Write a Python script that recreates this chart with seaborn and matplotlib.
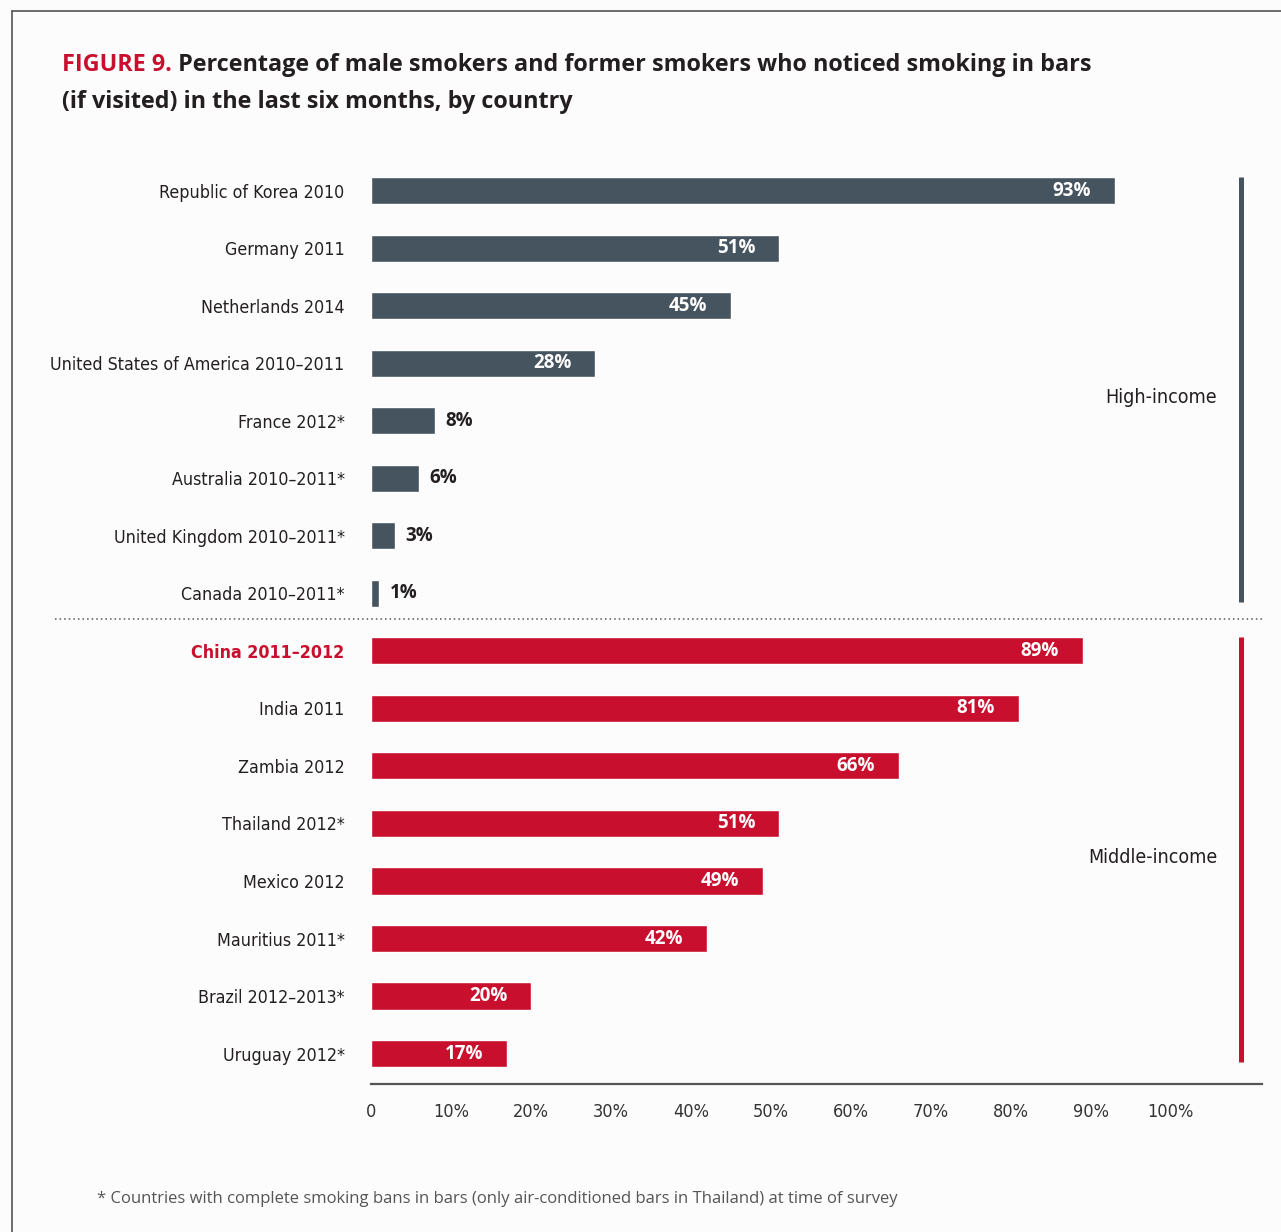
import matplotlib
matplotlib.use("Agg")
import matplotlib.pyplot as plt
import matplotlib.transforms as mtransforms
from matplotlib.lines import Line2D
import seaborn as sns
import pandas as pd

countries = ["Republic of Korea 2010", "Germany 2011", "Netherlands 2014",
             "United States of America 2010\u20132011", "France 2012*",
             "Australia 2010\u20132011*", "United Kingdom 2010\u20132011*",
             "Canada 2010\u20132011*",
             "China 2011\u20132012", "India 2011", "Zambia 2012", "Thailand 2012*",
             "Mexico 2012", "Mauritius 2011*", "Brazil 2012\u20132013*", "Uruguay 2012*"]
values = [93, 51, 45, 28, 8, 6, 3, 1, 89, 81, 66, 51, 49, 42, 20, 17]
groups = ["High-income"] * 8 + ["Middle-income"] * 8
xticks = [0, 10, 20, 30, 40, 50, 60, 70, 80, 90, 100]
xtick_labels = ["0"] + [f"{t}%" for t in xticks[1:]]

SLATE = "#46545f"
RED = "#c8102e"
TXT = "#231f20"
BG = "#fcfcfc"
SANS = ["Open Sans", "DejaVu Sans"]

df = pd.DataFrame({"country": countries, "value": values, "group": groups})

sns.set_theme(style="white")
plt.rcParams["font.family"] = ["DejaVu Sans"]
plt.rcParams["font.stretch"] = "condensed"

fig = plt.figure(figsize=(12.81, 12.32), dpi=100, facecolor=BG)
ax = fig.add_axes([371 / 1281, 1 - 1084 / 1232, 891 / 1281, (1084 - 161) / 1232])
ax.set_facecolor(BG)

sns.barplot(data=df, x="value", y="country", hue="group",
            palette={"High-income": SLATE, "Middle-income": RED},
            dodge=False, width=0.47, orient="h", legend=False, ax=ax,
            saturation=1)

ax.set_xlim(0, 111.4)
ax.set_ylim(15.53, -0.52)
ax.set_xlabel("")
ax.set_ylabel("")
ax.set_xticks(xticks)
ax.set_xticklabels(xtick_labels, fontsize=13, color="#333333")
ax.tick_params(axis="x", length=0, pad=14)
ax.tick_params(axis="y", length=0, pad=19, labelsize=12.8, labelcolor=TXT)
for lab in ax.get_yticklabels():
    if lab.get_text().startswith("China"):
        lab.set_color(RED)
        lab.set_fontweight("bold")
for s in ["top", "right", "left"]:
    ax.spines[s].set_visible(False)
ax.spines["bottom"].set_color("#555555")
ax.spines["bottom"].set_linewidth(1.6)

# value labels
for i, v in enumerate(values):
    if v >= 10:
        ax.annotate(f"{v}%", (v, i), xytext=(-17, 0), textcoords="offset points",
                    ha="right", va="center", color="white", fontsize=13.5,
                    fontweight="bold", family=SANS, fontstretch="normal")
    else:
        ax.annotate(f"{v}%", (v, i), xytext=(7.5, 0), textcoords="offset points",
                    ha="left", va="center", color=TXT, fontsize=13.5,
                    fontweight="bold", family=SANS, fontstretch="normal")

# group brackets and labels
for g, col in [("High-income", SLATE), ("Middle-income", RED)]:
    idx = [i for i, gg in enumerate(groups) if gg == g]
    ax.plot([108.75, 108.75], [idx[0] - 0.25, idx[-1] + 0.15], color=col,
            lw=3.6, clip_on=False, solid_capstyle="butt")
    ax.text(105.8, (idx[0] + idx[-1]) / 2 + 0.1, g, ha="right", va="center",
            fontsize=14, color=TXT)

# dotted separator
trans = mtransforms.blended_transform_factory(ax.transAxes, ax.transData)
ax.plot([(55 - 371) / 891, 1.0], [7.45, 7.45], transform=trans, color="#555555",
        lw=1.1, ls=(0, (1, 2)), clip_on=False)

# frame
fig.add_artist(Line2D([12 / 1281, 12 / 1281], [0, 1 - 11 / 1232], color="#555555", lw=1.2))
fig.add_artist(Line2D([12 / 1281, 1], [1 - 11 / 1232, 1 - 11 / 1232], color="#555555", lw=1.2))

# title
t1 = fig.text(62 / 1281, 1 - 65 / 1232, "FIGURE 9.", color=RED, fontsize=16.8,
              fontweight="bold", family=SANS, fontstretch="normal", va="center")
ax.annotate(" Percentage of male smokers and former smokers who noticed smoking in bars",
            xy=(1, 0.5), xycoords=t1, va="center", ha="left", color=TXT,
            fontsize=16.8, fontweight="bold", family=SANS, fontstretch="normal",
            annotation_clip=False)
fig.text(62 / 1281, 1 - 102 / 1232, "(if visited) in the last six months, by country",
         color=TXT, fontsize=16.8, fontweight="bold", family=SANS,
         fontstretch="normal", va="center")

# footnote
fig.text(97 / 1281, 1 - 1199 / 1232,
         "* Countries with complete smoking bans in bars (only air-conditioned bars in Thailand) at time of survey",
         color="#555555", fontsize=12.0, family=SANS, fontstretch="normal", va="center")

fig.savefig("out.png", dpi=100, facecolor=BG)
